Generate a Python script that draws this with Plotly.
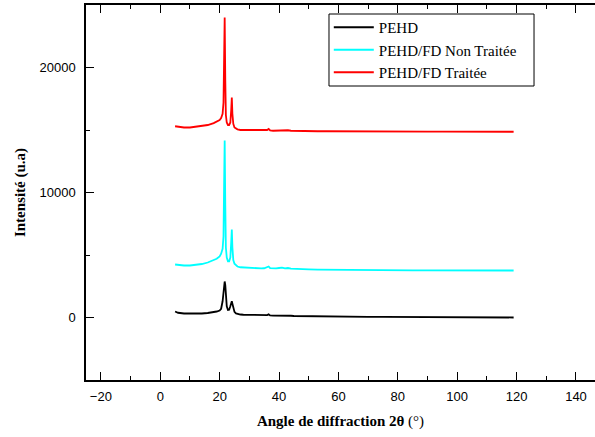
import plotly.graph_objects as go

angle = [5, 6, 8, 10, 12, 14, 16, 18, 19, 20, 20.5, 21, 21.3, 21.5, 21.7, 21.9, 22.1, 22.4, 22.8,
         23.2, 23.6, 23.9, 24.1, 24.3, 24.6, 25, 25.5, 26, 27, 28, 29, 30, 31, 32, 33, 34, 35, 36,
         36.5, 37, 38, 39, 40, 41, 42, 43, 44, 45, 47, 50, 53, 56, 60, 65, 70, 75, 80, 85, 90, 95,
         100, 105, 110, 115, 119]

pehd = [480, 380, 320, 300, 300, 320, 360, 420, 480, 560, 700, 1300, 2300, 2800, 2880, 2600, 1800,
        900, 600, 620, 900, 1250, 1300, 1100, 700, 450, 330, 280, 240, 220, 210, 200, 190, 180, 175,
        170, 170, 190, 250, 170, 150, 150, 170, 200, 160, 180, 140, 120, 110, 100, 90, 80, 70, 60,
        50, 50, 40, 40, 30, 30, 20, 20, 10, 10, 0]

pehd_fd_nt = [4240, 4200, 4160, 4160, 4200, 4280, 4400, 4560, 4700, 4880, 5100, 5500, 6500, 10500,
              14160, 9000, 5600, 4800, 4500, 4500, 4800, 6000, 7040, 5600, 4600, 4300, 4150, 4080,
              4020, 4000, 3980, 3960, 3950, 3950, 3940, 3930, 3940, 4000, 4080, 3950, 3920, 3930,
              3960, 3990, 3930, 3960, 3910, 3890, 3870, 3850, 3830, 3820, 3800, 3790, 3780, 3780,
              3770, 3770, 3770, 3760, 3760, 3760, 3760, 3760, 3760]

pehd_fd_t = [15300, 15250, 15200, 15200, 15250, 15300, 15400, 15550, 15650, 15800, 15950, 16300,
             17200, 20500, 24000, 19000, 16200, 15600, 15400, 15400, 15600, 16600, 17600, 16300,
             15500, 15200, 15100, 15050, 15000, 15000, 14980, 14970, 14960, 14950, 14950, 14940,
             14950, 15000, 15080, 14960, 14940, 14950, 14960, 14990, 14950, 14980, 14940, 14930,
             14920, 14910, 14900, 14900, 14890, 14880, 14880, 14880, 14870, 14870, 14870, 14870,
             14860, 14860, 14860, 14860, 14860]

names = ["PEHD", "PEHD/FD Non Traitée", "PEHD/FD Traitée"]
colors = ["black", "#00FFFF", "#FF0000"]
series = [pehd, pehd_fd_nt, pehd_fd_t]

fig = go.Figure()
for n, c, s in zip(names, colors, series):
    fig.add_trace(go.Scatter(x=angle, y=s, mode="lines", name=n,
                             line=dict(color=c, width=1.8)))

serif = "Liberation Serif"
tickfont = dict(family="Liberation Sans", size=13, color="black")
fig.update_layout(
    width=595, height=437,
    margin=dict(l=86, r=0, t=5, b=57),
    plot_bgcolor="white", paper_bgcolor="white",
    showlegend=True,
    legend=dict(x=0.477, y=0.984, xanchor="left", yanchor="top",
                bgcolor="rgba(0,0,0,0)", borderwidth=0,
                font=dict(family=serif, size=15, color="black"),
                tracegroupgap=0, itemwidth=40),
    shapes=[dict(type="rect", xref="paper", yref="paper",
                 x0=0.4774, x1=0.8802, y0=0.784, y1=0.976,
                 line=dict(color="black", width=1), fillcolor="white", layer="above")],
    xaxis=dict(range=[-25, 146.4], dtick=20, tick0=0, showgrid=False, zeroline=False,
               automargin=False,
               showline=True, linecolor="black", linewidth=1.5, mirror="ticks",
               ticks="inside", ticklen=8, tickwidth=1.2, tickcolor="black",
               minor=dict(dtick=10, ticks="inside", ticklen=4, tickcolor="black"),
               tickfont=tickfont, ticklabelstandoff=4,
               title=dict(text="<b>Angle de diffraction 2θ</b> (°)",
                          font=dict(family=serif, size=15, color="black"),
                          standoff=12)),
    yaxis=dict(range=[-5000, 25000], dtick=10000, tick0=0, showgrid=False, zeroline=False,
               automargin=False, tickformat="d",
               showline=True, linecolor="black", linewidth=1.5,
               ticks="inside", ticklen=8, tickwidth=1.2, tickcolor="black",
               minor=dict(dtick=5000, ticks="inside", ticklen=4, tickcolor="black"),
               tickfont=tickfont, ticklabelstandoff=6,
               title=dict(text="<b>Intensité (u.a)</b>",
                          font=dict(family=serif, size=15, color="black"),
                          standoff=10)),
)

fig.write_html("out.html", config={"displayModeBar": False},
               post_script="document.body.style.margin='0';document.body.style.overflow='hidden';")
